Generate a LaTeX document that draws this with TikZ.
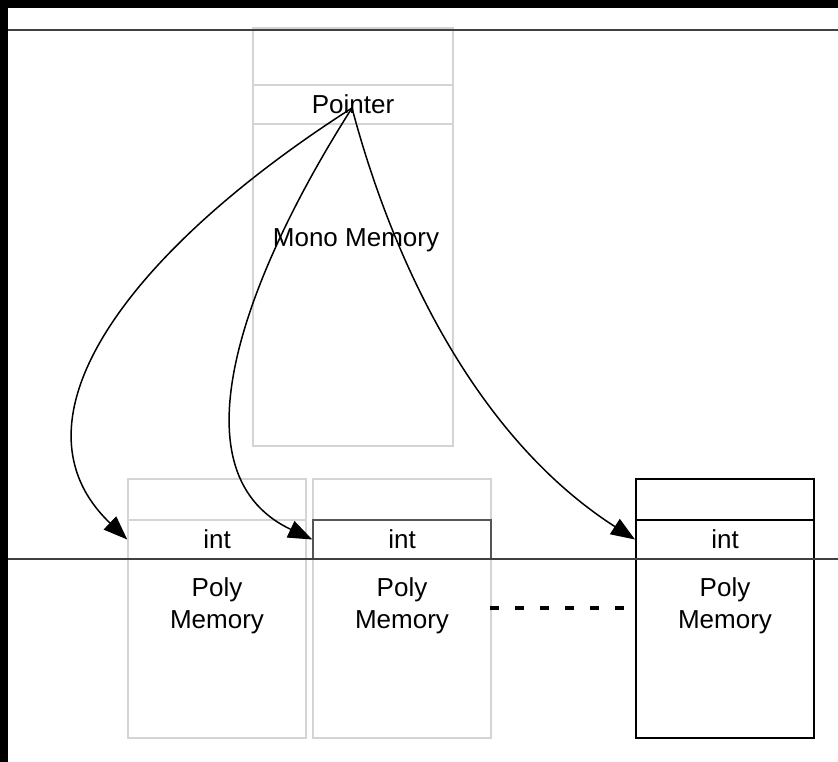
\documentclass[tikz,border=0pt]{standalone}
\usepackage{fontspec}
\setmainfont{Liberation Sans}
\usetikzlibrary{arrows.meta}
\definecolor{cellgray}{HTML}{D4D4D4}
\definecolor{rulegray}{HTML}{404040}
\definecolor{framegray}{HTML}{555555}
\begin{document}
\begin{tikzpicture}[x=1pt,y=-1pt,
  cell/.style={draw=cellgray,line width=1.5pt,inner sep=0pt,
    font=\fontsize{26}{32}\selectfont},
  boldcell/.style={draw=black,line width=2pt,inner sep=0pt,
    font=\fontsize{26}{32}\selectfont},
  lbl/.style={inner sep=0pt,align=center,font=\fontsize{26}{32}\selectfont},
  ptr/.style={-{Triangle[length=24pt,width=18pt]},line width=1.5pt},
  rule/.style={draw=rulegray,line width=1.2pt},
  dotline/.style={line width=3.5pt,dash pattern=on 9pt off 16pt}]
\useasboundingbox (0,0) rectangle (838,762);
\fill[white] (0,0) rectangle (838,762);
\fill[black] (0,0) rectangle (838,8);
\fill[black] (0,0) rectangle (8,762);

% mono memory column
\node[cell,minimum width=200pt,minimum height=57pt]  (monotop)  at (353,56.5) {};
\node[cell,minimum width=200pt,minimum height=39pt]  (monoptr)  at (353,104.5) {Pointer};
\node[cell,minimum width=200pt,minimum height=322pt] (monobody) at (353,285) {};
\node[lbl] (monotext) at (356,240) {Mono Memory};

% first poly block
\node[cell,minimum width=178pt,minimum height=41pt]  (topA)  at (217,499.5) {};
\node[cell,minimum width=178pt,minimum height=39pt]  (intA)  at (217,539.5) {int};
\node[cell,minimum width=178pt,minimum height=179pt] (bodyA) at (217,648.5) {};
\node[lbl] (textA) at (217,606) {Poly\\Memory};

% second poly block
\node[cell,minimum width=178pt,minimum height=41pt]  (topB)  at (402,499.5) {};
\node[cell,minimum width=178pt,minimum height=179pt] (bodyB) at (402,648.5) {};
\node[cell,draw=framegray,minimum width=178pt,minimum height=39pt] (intB) at (402,539.5) {int};
\node[lbl] (textB) at (402,606) {Poly\\Memory};

% last poly block
\node[boldcell,minimum width=178pt,minimum height=41pt]  (topC)  at (725,499.5) {};
\node[boldcell,minimum width=178pt,minimum height=39pt]  (intC)  at (725,539.5) {int};
\node[boldcell,minimum width=178pt,minimum height=179pt] (bodyC) at (725,648.5) {};
\node[lbl] (textC) at (725,606) {Poly\\Memory};

% guide rules
\coordinate (ruleTopL) at (8,30);
\coordinate (ruleTopR) at (838,30);
\coordinate (ruleMidL) at (8,559);
\coordinate (ruleMidR) at (838,559);
\draw[rule] (ruleTopL) -- (ruleTopR);
\draw[rule] (ruleMidL) -- (ruleMidR);

% continuation between blocks
\coordinate (gapL) at (490,608);
\coordinate (gapR) at (626,608);
\draw[dotline] (gapL) -- (gapR);

% pointers
\coordinate (src) at (352,108);
\draw[ptr] (src) .. controls (130,250) and (2,420) .. (intA.west);
\draw[ptr] (src) .. controls (255,260) and (165,470) .. (intB.west);
\draw[ptr] (src) .. controls (395,270) and (480,440) .. (intC.west);
\end{tikzpicture}
\end{document}
